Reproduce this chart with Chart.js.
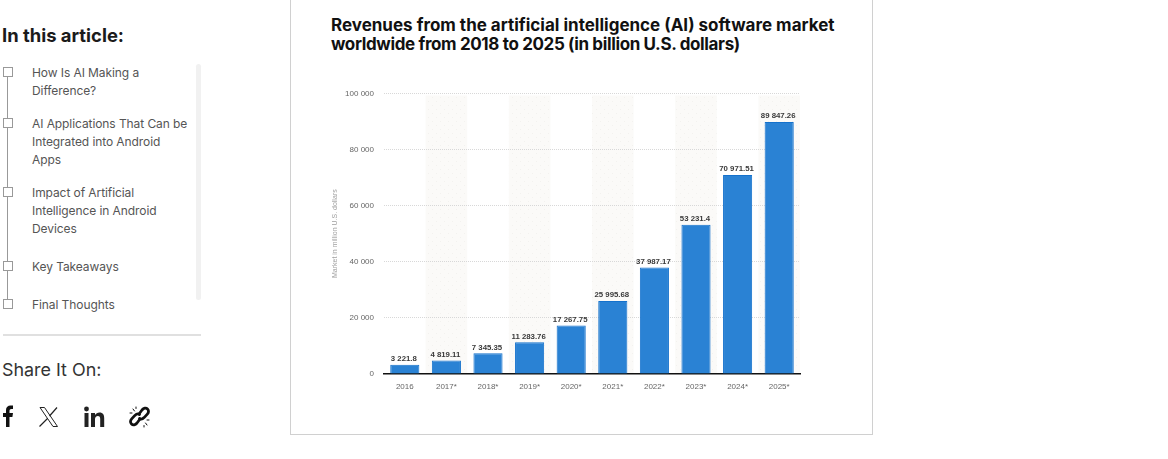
<!DOCTYPE html>
<html>
<head>
<meta charset="utf-8">
<title>AI software market revenue</title>
<script src="https://cdn.jsdelivr.net/npm/chart.js@4"></script>
<style>
  html, body { margin: 0; padding: 0; background: #fff; overflow: hidden; }
  body { position: relative; width: 1168px; height: 459px; font-family: Inter, sans-serif; }
  .abs { position: absolute; }
  #heading { left: 2px; top: 24px; font-size: 18.4px; font-weight: 700; line-height: 23px; color: #1b1b1b; white-space: nowrap; }
  #share { left: 2px; top: 359px; font-size: 17.9px; line-height: 22px; color: #333; white-space: nowrap; }
  .toc { left: 32px; font-size: 12px; letter-spacing: -0.08px; line-height: 18px; color: #555; white-space: nowrap; }
  .box { left: 3px; width: 8px; height: 8px; border: 1px solid #999; background: #fff; }
  #rail { left: 7px; top: 72px; width: 1px; height: 230px; background: #999; }
  #scroll { left: 196px; top: 64px; width: 5px; height: 236px; background: #f1f1f1; border-radius: 3px; }
  #divider { left: 3px; top: 334px; width: 198px; height: 2px; background: #e0e0e0; }
  #frame { left: 290px; top: -10px; width: 581px; height: 443px; border: 1px solid #d0d0d0; }
  #title { left: 331px; top: 16px; font-size: 17px; font-weight: 700; line-height: 18.500px; color: #111; white-space: nowrap; }
  #title span { letter-spacing: -0.36px; }
  #chart { position: absolute; left: 331px; top: 60px; }
</style>
</head>
<body>
<div class="abs" id="frame"></div>

<div class="abs" id="heading">In this article:</div>
<div class="abs" id="rail"></div>
<div class="abs box" style="top:67px"></div>
<div class="abs box" style="top:118px"></div>
<div class="abs box" style="top:187px"></div>
<div class="abs box" style="top:261px"></div>
<div class="abs box" style="top:299px"></div>
<div class="abs toc" style="top:64px">How Is AI Making a<br>Difference?</div>
<div class="abs toc" style="top:115px">AI Applications That Can be<br>Integrated into Android<br>Apps</div>
<div class="abs toc" style="top:184px">Impact of Artificial<br>Intelligence in Android<br>Devices</div>
<div class="abs toc" style="top:258px">Key Takeaways</div>
<div class="abs toc" style="top:296px">Final Thoughts</div>
<div class="abs" id="scroll"></div>
<div class="abs" id="divider"></div>
<div class="abs" id="share">Share It On:</div>

<svg class="abs" style="left:0;top:400px" width="160" height="34" viewBox="0 0 160 34">
  <path d="M6 27V17H3v-4h3v-3c0-3 2-4.500 4.500-4.500H13V9h-1.500C10 9 9.500 9.700 9.500 11v2H13l-.6 4H9.500v10z" fill="#111"/>
  <g stroke="#222" fill="none">
    <path d="M40 7.500h4.500L57.500 26.500H53z" stroke-width="1"/>
    <path d="M57 7.500L49.500 16M47.500 18.500L39.500 26.500" stroke-width="1.200"/>
  </g>
  <g fill="#222">
    <circle cx="86.500" cy="9" r="2.400"/>
    <rect x="84.500" y="13" width="4" height="14"/>
    <path d="M91 13h4v2c1-1.500 2.500-2.400 4.500-2.400 3.500 0 4.700 2.300 4.700 5.600V27h-4v-8c0-1.800-.6-3-2.300-3-1.900 0-2.900 1.300-2.900 3.200V27h-4z"/>
  </g>
  <g fill="none" stroke="#111" stroke-width="2.800" stroke-linecap="round">
    <path d="M139 14l3-4c1.700-2 4-2.400 5.500-1s1.300 3.600-.4 5.400l-3 3.200c-1.500 1.500-3.300 1.800-4.600.9"/>
    <path d="M140 19l-3 4c-1.700 2-4 2.400-5.500 1s-1.300-3.600.4-5.400l3-3.200c1.500-1.500 3.300-1.800 4.600-.9"/>
  </g>
  <g stroke="#111" stroke-width="1" stroke-linecap="round">
    <path d="M133 9l1.500 2M130 13h2M147 25l-1.500-2M149 20h-2M136 7v1.500M144 27v-1.500"/>
  </g>
</svg>

<div class="abs" id="title">Revenues from the artificial intelligence (AI) software market<br><span>worldwide from 2018 to 2025 (in billion U.S. dollars)</span></div>
<canvas id="chart" width="541" height="374"></canvas>

<script>
const yAxisTitle = 'Market in million U.S. dollars';
const categories = ['2016', '2017*', '2018*', '2019*', '2020*', '2021*', '2022*', '2023*', '2024*', '2025*'];
const revenue = [3221.8, 4819.11, 7345.35, 11283.76, 17267.75, 25995.68, 37987.17, 53231.4, 70971.51, 89847.26];
const yTicks = [0, 20000, 40000, 60000, 80000, 100000];
const shadedCategories = ['2017*', '2019*', '2021*', '2023*', '2025*'];

// 89847.26 -> 89 847.26
function formatNumber(value) {
  const [whole, decimals] = String(value).split('.');
  const grouped = whole.replace(/\B(?=(\d{3})+$)/g, ' ');
  return decimals ? `${grouped}.${decimals}` : grouped;
}

function dottedPattern(ctx) {
  const tile = document.createElement('canvas');
  tile.width = 8;
  tile.height = 8;
  const t = tile.getContext('2d');
  t.fillStyle = '#fbfaf8';
  t.fillRect(0, 0, 8, 8);
  t.fillStyle = '#f3f2ef';
  t.fillRect(1, 1, 1, 1);
  t.fillRect(5, 5, 1, 1);
  return ctx.createPattern(tile, 'repeat');
}

// alternating background columns behind the grid
const bandsPlugin = {
  id: 'bands',
  beforeDraw(chart) {
    const { ctx, chartArea, scales } = chart;
    const step = scales.x.width / categories.length;
    ctx.save();
    ctx.fillStyle = dottedPattern(ctx);
    shadedCategories.forEach(cat => {
      const center = scales.x.getPixelForValue(categories.indexOf(cat));
      ctx.fillRect(center - step / 2, chartArea.top + 2, step, chartArea.height - 2);
    });
    ctx.restore();
  }
};

// value printed above every bar
const barLabelsPlugin = {
  id: 'barLabels',
  afterDatasetsDraw(chart) {
    const { ctx } = chart;
    ctx.save();
    ctx.font = 'bold 7.8px "Liberation Sans", Arial, sans-serif';
    ctx.fillStyle = '#3a3a3a';
    ctx.textAlign = 'center';
    ctx.textBaseline = 'bottom';
    chart.getDatasetMeta(0).data.forEach((bar, i) => {
      ctx.fillText(formatNumber(revenue[i]), bar.x - 1, bar.y - 2);
    });
    ctx.restore();
  }
};

new Chart(document.getElementById('chart').getContext('2d'), {
  type: 'bar',
  data: {
    labels: categories,
    datasets: [{
      data: revenue,
      backgroundColor: '#2a82d4',
      borderColor: '#1471cc',
      borderWidth: 1,
      barPercentage: 0.7,
      categoryPercentage: 1
    }]
  },
  plugins: [bandsPlugin, barLabelsPlugin],
  options: {
    responsive: false,
    animation: false,
    layout: { padding: { top: 33.500, right: 72, bottom: 42.500 } },
    plugins: {
      legend: { display: false },
      tooltip: { enabled: false }
    },
    scales: {
      x: {
        grid: { display: false },
        border: { color: '#111', width: 1.5 },
        ticks: {
          color: '#666',
          font: { family: '"Liberation Sans", Arial, sans-serif', size: 8 },
          padding: 0,
          maxRotation: 0,
          autoSkip: false
        }
      },
      y: {
        min: 0,
        max: 100000,
        afterFit(scale) { scale.width = 53; },
        afterBuildTicks(scale) { scale.ticks = yTicks.map(value => ({ value })); },
        title: {
          display: true,
          text: yAxisTitle,
          color: '#a0a0a0',
          font: { family: '"Liberation Sans", Arial, sans-serif', size: 7 },
          padding: 0
        },
        border: { display: false, dash: [1, 1] },
        grid: { color: '#d8d8d8', lineWidth: 1, drawTicks: false },
        ticks: {
          color: '#666',
          font: { family: '"Liberation Sans", Arial, sans-serif', size: 8 },
          padding: 10,
          callback: value => formatNumber(value)
        }
      }
    }
  }
});
</script>
</body>
</html>
